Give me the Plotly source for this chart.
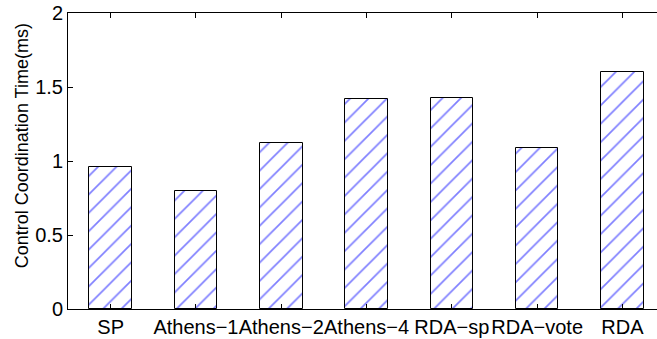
import plotly.graph_objects as go

categories = ["SP", "Athens\u22121", "Athens\u22122", "Athens\u22124", "RDA\u2212sp", "RDA\u2212vote", "RDA"]
values = [0.96, 0.80, 1.12, 1.42, 1.428, 1.09, 1.60]
y_ticks = [0, 0.5, 1, 1.5, 2]
y_tick_text = ["0", "0.5", "1", "1.5", "2"]
y_title = "Control Coordination Time(ms)"

fig = go.Figure()
fig.add_trace(go.Bar(
    x=categories, y=values, width=0.5,
    marker=dict(color="white",
                line=dict(color="black", width=1),
                pattern=dict(shape="/", fgcolor="#0000ff", bgcolor="white", size=13, solidity=0.13)),
))

font = "Liberation Sans, Arial, Helvetica, sans-serif"
fig.update_layout(
    width=657, height=339,
    margin=dict(l=68, r=0, t=13, b=30),
    plot_bgcolor="white", paper_bgcolor="white",
    showlegend=False,
    font=dict(family=font, size=20, color="black"),
    bargap=0,
)
fig.update_xaxes(
    range=[-0.5, 6.405], showline=True, linecolor="black", linewidth=1,
    mirror="ticks", ticks="inside", ticklen=5, tickcolor="black",
    showgrid=False, zeroline=False, tickfont=dict(size=20, family=font),
    tickangle=0,
)
fig.update_yaxes(
    range=[0, 2], tickvals=y_ticks, ticktext=y_tick_text,
    showline=True, linecolor="black", linewidth=1, mirror=False,
    ticks="inside", ticklen=5, tickcolor="black",
    showgrid=False, zeroline=False, tickfont=dict(size=20, family=font),
)
fig.add_annotation(
    text=y_title, textangle=-90, showarrow=False,
    xref="paper", yref="paper", x=0, y=0.55, xshift=-46,
    xanchor="center", yanchor="middle",
    font=dict(size=18, family=font, color="black"),
)

fig.write_html("out.html")
